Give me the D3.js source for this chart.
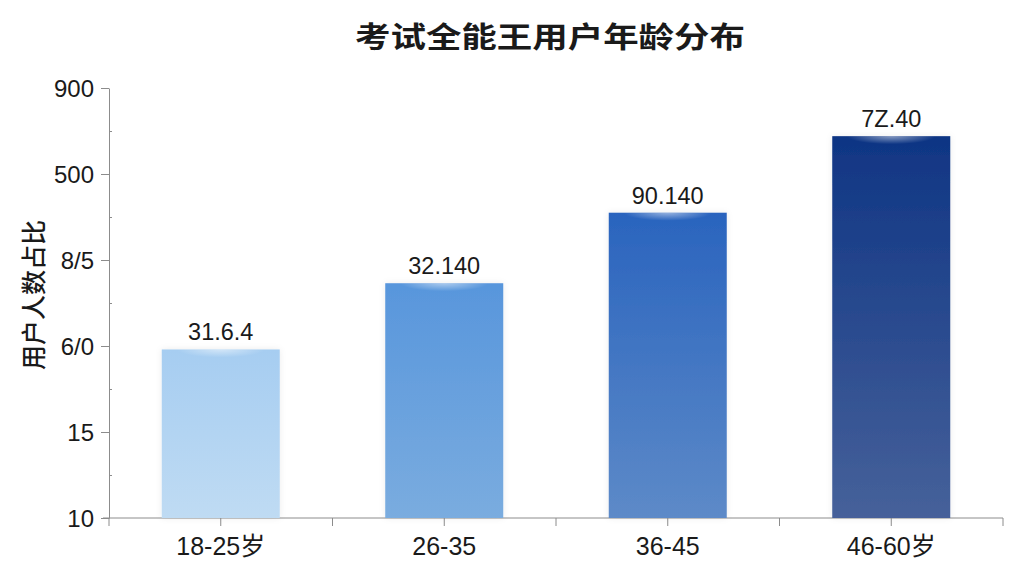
<!DOCTYPE html>
<html lang="zh">
<meta charset="utf-8"/>
<head>
<script src="https://d3js.org/d3.v7.min.js"></script>
<style>
	body { margin: 0; background: #ffffff; }
	svg text { font-family: "Liberation Sans", Arial, "Noto Sans CJK SC", sans-serif; fill: #1a1a1a; }
	.title { font-family: "Noto Sans CJK SC", sans-serif; font-weight: bold; }
	.ytitle { font-family: "Noto Sans CJK SC", sans-serif; font-weight: 500; }
	.cjk { font-family: "Liberation Sans", "Noto Sans CJK SC", sans-serif; }
	.axis path, .axis line { stroke: #8c8c8c; }
</style>
</head>
<body>
<svg id="chart" width="1024" height="576"></svg>
<script>
// data
let categories = ["18-25岁", "26-35", "36-45", "46-60岁"]
let values = [1.96, 2.73, 3.55, 4.44]          // bar height in tick steps
let valueLabels = ["31.6.4", "32.140", "90.140", "7Z.40"]
let yTickLabels = ["10", "15", "6/0", "8/5", "500", "900"]
let topColors = ["#a6cdf1", "#5896dc", "#2a64be", "#0f3584"]
let bottomColors = ["#bfdbf3", "#7aacdf", "#5d8ac8", "#46619a"]

let svg = d3.select("#chart")
let width = 1024
let height = 576
let margin = {left: 109, right: 21, top: 88, bottom: 58}

let xScale = d3.scaleBand()
	.domain(categories)
	.range([margin.left, width - margin.right])
	.paddingInner(0.472)
	.paddingOuter(0.236)

let yScale = d3.scaleLinear()
	.domain([0, 5])
	.range([height - margin.bottom, margin.top])

let defs = svg.append("defs")
categories.forEach((c, i) => {
	let g = defs.append("linearGradient")
		.attr("id", "grad" + i)
		.attr("x1", 0).attr("y1", 0).attr("x2", 0).attr("y2", 1)
	g.append("stop").attr("offset", "0%").attr("stop-color", topColors[i])
	g.append("stop").attr("offset", "100%").attr("stop-color", bottomColors[i])
})
let hl = defs.append("radialGradient")
	.attr("id", "glow")
	.attr("cx", 0.5).attr("cy", 0).attr("r", 0.5)
hl.append("stop").attr("offset", "0%").attr("stop-color", "#ffffff").attr("stop-opacity", 0.5)
hl.append("stop").attr("offset", "100%").attr("stop-color", "#ffffff").attr("stop-opacity", 0)

let shadow = defs.append("filter").attr("id", "shadow")
	.attr("x", "-20%").attr("y", "-20%").attr("width", "140%").attr("height", "140%")
shadow.append("feDropShadow")
	.attr("dx", 0).attr("dy", 0).attr("stdDeviation", 3)
	.attr("flood-color", "#000").attr("flood-opacity", 0.08)

// title
svg.append("text")
	.attr("class", "title")
	.attr("x", 550)
	.attr("y", 48)
	.attr("text-anchor", "middle")
	.attr("font-size", 29)
	.attr("textLength", 390)
	.attr("lengthAdjust", "spacingAndGlyphs")
	.text("考试全能王用户年龄分布")

// minor y ticks
svg.append("g")
	.attr("class", "axis")
	.attr("transform", "translate(" + margin.left + ",0)")
	.call(d3.axisRight(yScale).tickValues(d3.range(0.5, 5, 1)).tickSize(3).tickFormat(""))
	.call(g => g.select(".domain").remove())
	.selectAll("line").attr("stroke", "#c8c8c8")

// y axis
let yAxis = svg.append("g")
	.attr("class", "axis")
	.attr("transform", "translate(" + margin.left + ",0)")
	.call(d3.axisLeft(yScale).tickValues(d3.range(0, 6)).tickSize(8).tickSizeOuter(0)
		.tickFormat(i => yTickLabels[i]))
yAxis.selectAll("text").attr("font-size", 24).attr("x", -15).attr("dy", "0.36em").attr("fill", "#1a1a1a")

// x axis: boundary ticks and centre ticks
let bounds = categories.map(c => xScale(c) - xScale.step() * xScale.paddingInner() / 2)
bounds.push(width - margin.right)
let xAxis = svg.append("g")
	.attr("class", "axis")
	.attr("transform", "translate(0," + (height - margin.bottom) + ")")
xAxis.append("line")
	.attr("x1", margin.left - 6).attr("x2", width - margin.right)
	.attr("y1", 0).attr("y2", 0)
xAxis.selectAll(".bound")
	.data(bounds)
	.enter()
	.append("line")
	.attr("class", "bound")
	.attr("x1", d => d).attr("x2", d => d)
	.attr("y1", 0).attr("y2", 8)
xAxis.selectAll(".mid")
	.data(categories)
	.enter()
	.append("line")
	.attr("class", "mid")
	.attr("x1", d => xScale(d) + xScale.bandwidth() / 2)
	.attr("x2", d => xScale(d) + xScale.bandwidth() / 2)
	.attr("y1", 0).attr("y2", 8)
xAxis.selectAll(".lab")
	.data(categories)
	.enter()
	.append("text")
	.attr("class", "lab cjk")
	.attr("x", d => xScale(d) + xScale.bandwidth() / 2)
	.attr("y", 37)
	.attr("text-anchor", "middle")
	.attr("font-size", 25)
	.text(d => d)

// y title
svg.append("text")
	.attr("class", "ytitle")
	.attr("transform", "translate(43,295) rotate(-90)")
	.attr("text-anchor", "middle")
	.attr("font-size", 25)
	.text("用户人数占比")

// bars
let bars = svg.selectAll(".bar")
	.data(values)
	.enter()
	.append("g")
	.attr("class", "bar")
bars.append("rect")
	.attr("x", (d, i) => xScale(categories[i]))
	.attr("y", d => yScale(d))
	.attr("width", xScale.bandwidth())
	.attr("height", d => yScale(0) - yScale(d))
	.attr("fill", (d, i) => "url(#grad" + i + ")")
	.attr("filter", "url(#shadow)")
bars.append("rect")
	.attr("x", (d, i) => xScale(categories[i]) + 15)
	.attr("y", d => yScale(d))
	.attr("width", xScale.bandwidth() - 30)
	.attr("height", 16)
	.attr("fill", "url(#glow)")
bars.append("text")
	.attr("x", (d, i) => xScale(categories[i]) + xScale.bandwidth() / 2)
	.attr("y", d => yScale(d) - 9)
	.attr("text-anchor", "middle")
	.attr("font-size", 23.5)
	.text((d, i) => valueLabels[i])
</script>
</body>
</html>
